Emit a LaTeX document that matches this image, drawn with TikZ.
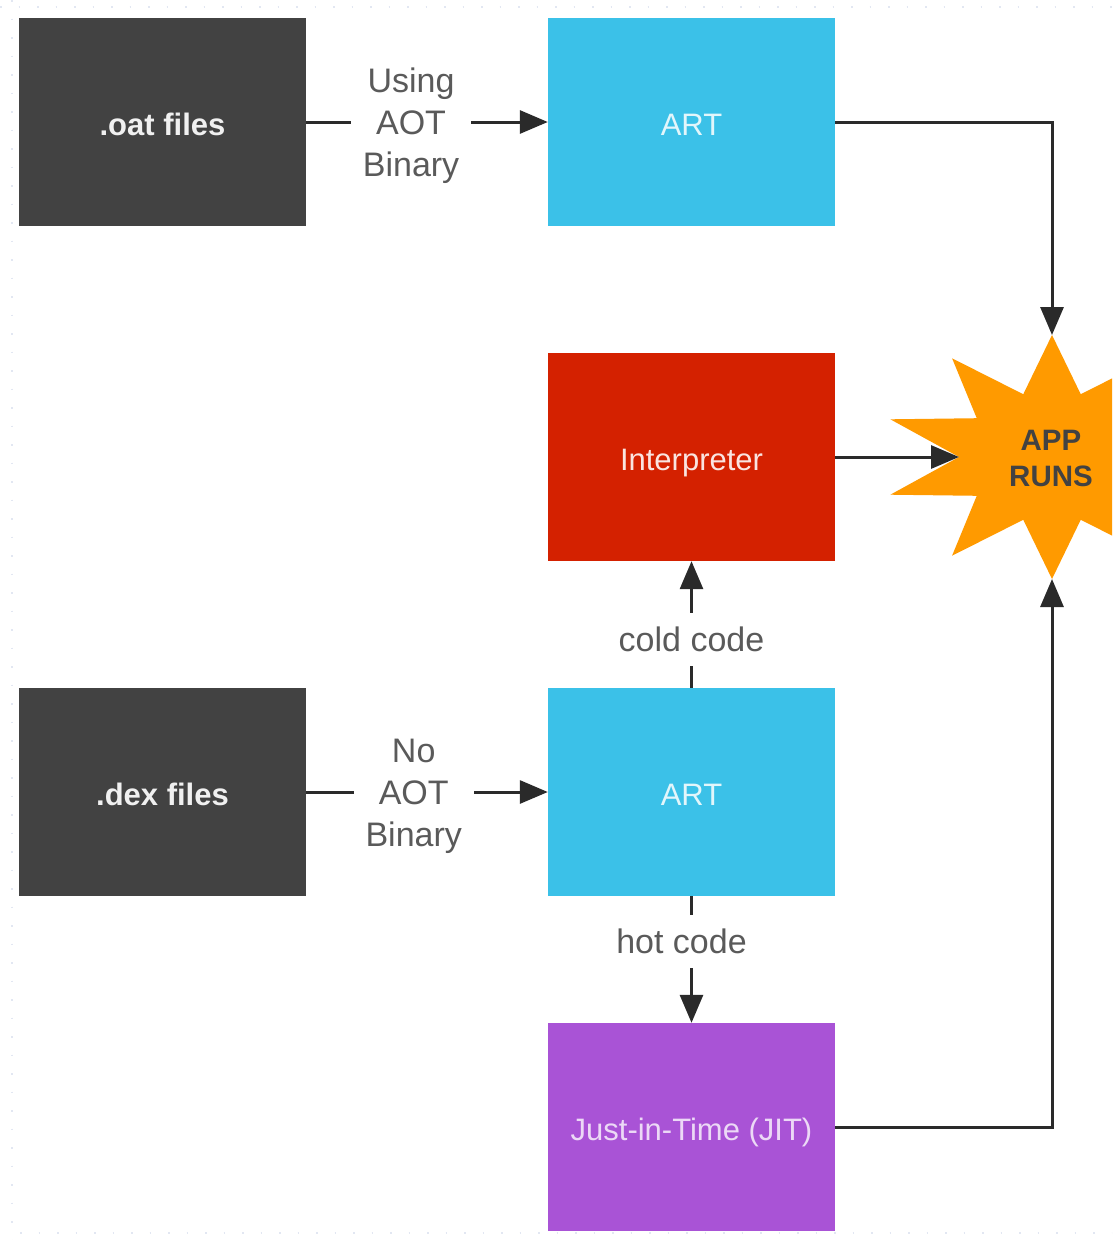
\documentclass[tikz,border=0pt]{standalone}
\usepackage{fontspec}
\setmainfont{Liberation Sans}
\usetikzlibrary{arrows.meta}
\definecolor{darkbox}{HTML}{424242}
\definecolor{artcyan}{HTML}{3BC1E8}
\definecolor{interpred}{HTML}{D42100}
\definecolor{jitpurple}{HTML}{A953D6}
\definecolor{starorange}{HTML}{FF9A00}
\definecolor{labelgray}{HTML}{5A5A5A}
\definecolor{linegray}{HTML}{2A2A2A}
\definecolor{gridblue}{HTML}{E2E7F2}
\tikzset{
  box/.style={minimum width=287pt, minimum height=208pt, inner sep=0pt, anchor=center,
    text height=26pt, text depth=0pt},
  boxtext/.style={font=\fontsize{31}{36}\selectfont},
  boldtext/.style={font=\fontsize{31}{36}\selectfont\bfseries},
  conn/.style={draw=linegray, line width=3pt},
  arr/.style={conn, -{Triangle[length=28pt,width=23pt]}},
  lbl/.style={fill=white, text=labelgray, align=center, inner xsep=12pt, inner ysep=14pt,
    font=\fontsize{34}{42}\selectfont},
  gridline/.style={draw=gridblue, line width=1.5pt, dash pattern=on 1.5pt off 17pt},
}
\begin{document}
\begin{tikzpicture}[x=1pt,y=-1pt]
\useasboundingbox (0,0) rectangle (1112,1240);
\clip (0,0) rectangle (1112,1240);
\fill[white] (0,0) rectangle (1112,1240);
% faint background grid dots
\draw[gridline] (0,7) -- (1112,7);
\draw[gridline] (12,0) -- (12,1240);
\draw[gridline] (20,1233) -- (1112,1233);

% boxes
\node[box, fill=darkbox, boldtext, text=white!92!darkbox] (oat) at (162.5,122) {.oat files};
\node[box, fill=artcyan, boxtext, text=white!85!artcyan] (art1) at (691.5,122) {ART};
\node[box, fill=interpred, boxtext, text=white!88!interpred] (interp) at (691.5,457) {Interpreter};
\node[box, fill=darkbox, boldtext, text=white!92!darkbox] (dex) at (162.5,792) {.dex files};
\node[box, fill=artcyan, boxtext, text=white!85!artcyan] (art2) at (691.5,792) {ART};
\node[box, fill=jitpurple, boxtext, text=white!78!jitpurple] (jit) at (691.5,1127) {Just-in-Time (JIT)};

% star
\foreach \i in {0,...,19} {
  \pgfmathsetmacro\ang{90+18*\i}
  \pgfmathsetmacro\rx{mod(\i,2)==0 ? 170 : 93}
  \pgfmathsetmacro\ry{mod(\i,2)==0 ? 122 : 66}
  \coordinate (s\i) at ({1052+\rx*cos(\ang)},{457-\ry*sin(\ang)});
}
\fill[starorange] (s0) \foreach \i in {1,...,19}{ -- (s\i)} -- cycle;
\node[align=center, text=darkbox, font=\fontsize{29.5}{36}\selectfont\bfseries] (star) at (1051,458) {APP\\RUNS};

% connectors
\draw[arr] (oat.east) -- node[lbl, pos=0.434, yshift=-4pt] {Using\\AOT\\Binary} (art1.west);
\draw[arr] (dex.east) -- node[lbl, pos=0.445, yshift=-4pt] {No\\AOT\\Binary} (art2.west);
\draw[arr] (art1.east) -| (s0);
\draw[arr] (interp.east) -- (s5);
\draw[arr] (art2.north) -- node[lbl, pos=0.38] {cold code} (interp.south);
\draw[arr] (art2.south) -- node[lbl, pos=0.36, xshift=-10pt] {hot code} (jit.north);
\draw[arr] (jit.east) -| (s10);
\end{tikzpicture}
\end{document}
